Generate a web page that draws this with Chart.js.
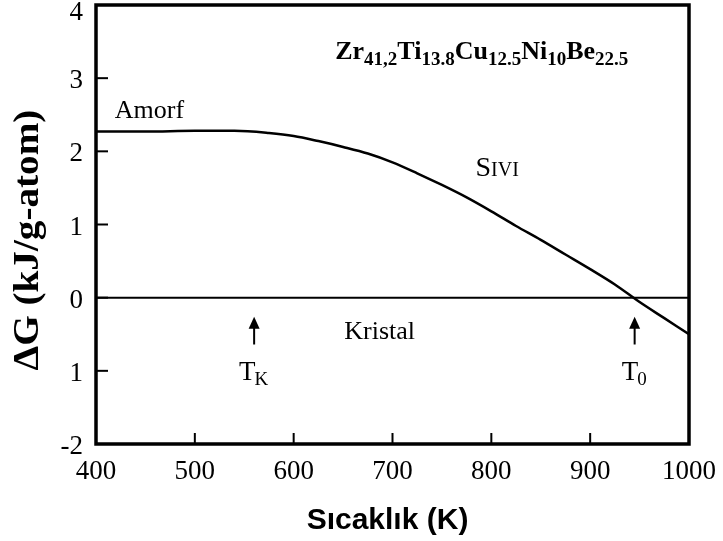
<!DOCTYPE html>
<html>
<head>
<meta charset="utf-8">
<script src="https://cdn.jsdelivr.net/npm/chart.js@4"></script>
<style>
  html, body { margin: 0; padding: 0; background: #fff; }
  #wrap { width: 723px; height: 541px; }
</style>
</head>
<body>
<div id="wrap"><canvas id="c" width="723" height="541"></canvas></div>
<script>
// Temperature (K) and free-energy difference ΔG (kJ/g-atom) of the undercooled liquid
const temps  = [400, 450, 500, 540, 575, 600, 625, 650, 675, 700, 725, 750, 775, 800, 825, 850, 875, 900, 925, 950, 975, 1000];
const deltaG = [2.27, 2.27, 2.28, 2.28, 2.25, 2.21, 2.14, 2.06, 1.97, 1.85, 1.70, 1.54, 1.37, 1.18, 0.98, 0.79, 0.59, 0.39, 0.18, -0.06, -0.28, -0.50];

// Crystal reference line
const crystalT = [400, 1000];
const crystalG = [0, 0];

// Axis ticks
const xTicks = [400, 500, 600, 700, 800, 900, 1000];
const yTicks = [-2, -1, 0, 1, 2, 3, 4];
const yTickLabels = ['-2', '1', '0', '1', '2', '3', '4'];

// Marked temperatures
const tK = 560;
const t0 = 945;

const serif = '"Liberation Serif", "Times New Roman", serif';
const sans = '"Liberation Sans", Arial, sans-serif';

function drawSubText(ctx, parts, x, y, bigSize, smallSize, drop) {
  // parts: [[text, isSub], ...]
  let cx = x;
  ctx.textAlign = 'left';
  ctx.textBaseline = 'alphabetic';
  parts.forEach(p => {
    ctx.font = 'bold ' + (p[1] ? smallSize : bigSize) + 'px ' + serif;
    ctx.fillText(p[0], cx, p[1] ? y + drop : y);
    cx += ctx.measureText(p[0]).width;
  });
}

const decor = {
  id: 'decor',
  afterDraw(chart) {
    const ctx = chart.ctx;
    const a = chart.chartArea;
    const xs = chart.scales.x, ys = chart.scales.y;
    ctx.save();
    ctx.fillStyle = '#000';
    ctx.strokeStyle = '#000';

    // inward tick marks
    ctx.lineWidth = 2;
    xTicks.forEach(v => {
      const px = xs.getPixelForValue(v);
      ctx.beginPath(); ctx.moveTo(px, a.bottom); ctx.lineTo(px, a.bottom - 11); ctx.stroke();
    });
    yTicks.forEach(v => {
      const py = ys.getPixelForValue(v);
      ctx.beginPath(); ctx.moveTo(a.left, py); ctx.lineTo(a.left + 12, py); ctx.stroke();
    });

    // y tick labels, kept inside the canvas at the top
    ctx.font = '27px ' + serif;
    ctx.textAlign = 'right';
    ctx.textBaseline = 'middle';
    yTicks.forEach((v, i) => {
      const py = Math.max(ys.getPixelForValue(v) + 3, 13);
      ctx.fillText(yTickLabels[i], a.left - 13, py);
    });

    // frame
    ctx.lineWidth = 3.5;
    ctx.strokeRect(a.left, a.top, a.right - a.left, a.bottom - a.top);

    // arrows at T_K and T_0
    [tK, t0].forEach(t => {
      const px = xs.getPixelForValue(t);
      const yTop = ys.getPixelForValue(-0.26);
      const yBot = ys.getPixelForValue(-0.64);
      ctx.lineWidth = 2;
      ctx.beginPath(); ctx.moveTo(px, yBot); ctx.lineTo(px, yTop + 8); ctx.stroke();
      ctx.beginPath();
      ctx.moveTo(px, yTop); ctx.lineTo(px - 5.5, yTop + 12); ctx.lineTo(px + 5.5, yTop + 12);
      ctx.closePath(); ctx.fill();
    });

    // text labels
    ctx.font = '26px ' + serif;
    ctx.textBaseline = 'alphabetic';
    ctx.textAlign = 'left';
    ctx.fillText('Amorf', xs.getPixelForValue(419), ys.getPixelForValue(2.45));
    ctx.textAlign = 'center';
    ctx.fillText('Kristal', xs.getPixelForValue(687), ys.getPixelForValue(-0.56));

    ctx.textAlign = 'left';
    ctx.font = '28px ' + serif;
    ctx.fontVariantCaps = 'small-caps';
    ctx.fillText('Sıvı', xs.getPixelForValue(784), ys.getPixelForValue(1.66));
    ctx.fontVariantCaps = 'normal';

    // T_K and T_0 labels
    [[tK, 'K'], [t0, '0']].forEach(([t, sub]) => {
      const px = xs.getPixelForValue(t);
      const py = ys.getPixelForValue(-1.12);
      ctx.font = '27px ' + serif;
      const wT = ctx.measureText('T').width;
      ctx.font = '19px ' + serif;
      const wS = ctx.measureText(sub).width;
      const x0 = px - (wT + wS) / 2;
      ctx.textAlign = 'left';
      ctx.font = '27px ' + serif;
      ctx.fillText('T', x0, py);
      ctx.font = '19px ' + serif;
      ctx.fillText(sub, x0 + wT - 1, py + 5);
    });

    // alloy formula
    drawSubText(ctx, [['Zr', 0], ['41,2', 1], ['Ti', 0], ['13.8', 1], ['Cu', 0], ['12.5', 1], ['Ni', 0], ['10', 1], ['Be', 0], ['22.5', 1]],
      xs.getPixelForValue(642), ys.getPixelForValue(3.26), 26, 19, 6);

    // axis titles
    ctx.font = 'bold 30px ' + sans;
    ctx.textAlign = 'center';
    ctx.textBaseline = 'middle';
    ctx.fillText('Sıcaklık (K)', (a.left + a.right) / 2 - 5, 521);

    ctx.save();
    ctx.translate(29, 240);
    ctx.rotate(-Math.PI / 2);
    ctx.scale(1.12, 1);
    ctx.font = 'bold 35px ' + serif;
    ctx.textAlign = 'center';
    ctx.textBaseline = 'middle';
    ctx.fillText('ΔG (kJ/g-atom)', 0, 0);
    ctx.restore();

    ctx.restore();
  }
};

new Chart(document.getElementById('c'), {
  type: 'line',
  data: {
    datasets: [
      {
        data: temps.map((t, i) => ({ x: t, y: deltaG[i] })),
        borderColor: '#000',
        borderWidth: 2.5,
        pointRadius: 0,
        cubicInterpolationMode: 'monotone',
        fill: false
      },
      {
        data: crystalT.map((t, i) => ({ x: t, y: crystalG[i] })),
        borderColor: '#000',
        borderWidth: 2,
        pointRadius: 0,
        fill: false
      }
    ]
  },
  options: {
    responsive: false,
    animation: false,
    devicePixelRatio: 1,
    layout: { padding: { top: 5, right: 34, left: 0, bottom: 0 } },
    plugins: { legend: { display: false }, tooltip: { enabled: false }, title: { display: false } },
    scales: {
      x: {
        type: 'linear',
        min: 400, max: 1000,
        afterBuildTicks: s => { s.ticks = xTicks.map(v => ({ value: v })); },
        afterFit: s => { s.height = 97; s.paddingLeft = 0; s.paddingRight = 0; },
        grid: { display: false, drawTicks: false },
        border: { display: false },
        ticks: {
          color: '#000',
          font: { family: serif, size: 27 },
          padding: 12,
          maxRotation: 0,
          callback: v => String(v)
        }
      },
      y: {
        type: 'linear',
        min: -2, max: 4,
        afterBuildTicks: s => { s.ticks = yTicks.map(v => ({ value: v })); },
        afterFit: s => { s.width = 96; s.paddingTop = 0; s.paddingBottom = 0; },
        grid: { display: false, drawTicks: false },
        border: { display: false },
        ticks: { display: false }
      }
    }
  },
  plugins: [decor]
});
</script>
</body>
</html>
